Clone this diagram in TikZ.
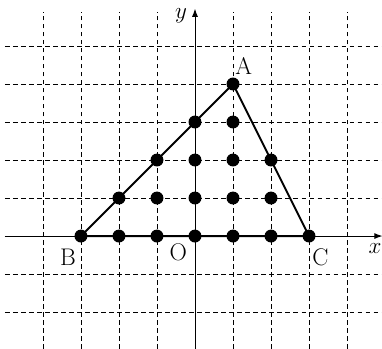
\documentclass[tikz,border=0pt]{standalone}
\usetikzlibrary{arrows.meta}
\begin{document}
\begin{tikzpicture}[x=1cm,y=1cm,
  gridline/.style={line width=0.5pt, dash pattern=on 3.5pt off 2.5pt},
  axisline/.style={line width=0.7pt, -{Latex[length=6pt,width=4.5pt]}},
  tri/.style={line width=1.5pt, line join=round},
  pt/.style={circle, fill=black, inner sep=0pt, minimum size=0.34cm},
  lbl/.style={font=\fontsize{18}{20}\selectfont, inner sep=0pt}]
\useasboundingbox (-5.13,-2.97) rectangle (4.92,6.21);
% grid
\foreach \yy in {-2,...,5} \draw[gridline] (-5,\yy) -- (4.95,\yy);
\foreach \xx in {-4,...,4} \draw[gridline] (\xx,-2.97) -- (\xx,5.9);
% axes
\coordinate (xs) at (-5,0);
\coordinate (xe) at (4.93,0);
\coordinate (ys) at (0,-2.97);
\coordinate (ye) at (0,5.98);
\draw[axisline] (xs) -- (xe);
\draw[axisline] (ys) -- (ye);
\node[lbl] (xl) at (4.74,-0.33) {$x$};
\node[lbl] (yl) at (-0.37,5.8) {$y$};
% triangle
\coordinate (A) at (1,4);
\coordinate (B) at (-3,0);
\coordinate (C) at (3,0);
\draw[tri] (A) -- (B) -- (C) -- cycle;
% lattice points
\foreach \xx in {-3,...,3} \node[pt] (p\xx-0) at (\xx,0) {};
\foreach \xx in {-2,...,2} \node[pt] (p\xx-1) at (\xx,1) {};
\foreach \xx in {-1,...,2} \node[pt] (p\xx-2) at (\xx,2) {};
\foreach \xx in {0,1} \node[pt] (p\xx-3) at (\xx,3) {};
\node[pt] (p1-4) at (1,4) {};
% labels
\node[lbl] (la) at (1.28,4.47) {A};
\node[lbl] (lb) at (-3.34,-0.55) {B};
\node[lbl] (lo) at (-0.44,-0.42) {O};
\node[lbl] (lc) at (3.3,-0.55) {C};
\end{tikzpicture}
\end{document}
